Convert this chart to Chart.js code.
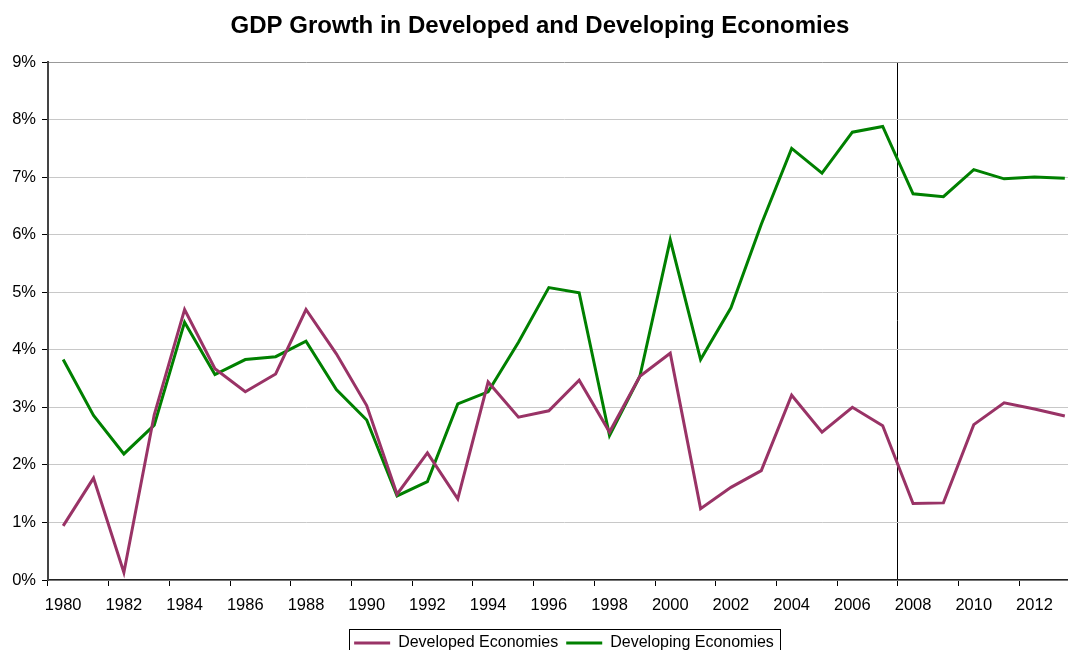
<!DOCTYPE html>
<html>
<head>
<meta charset="utf-8">
<title>GDP Growth</title>
<script src="https://cdn.jsdelivr.net/npm/chart.js@4.4.1/dist/chart.umd.min.js"></script>
<style>
  html, body { margin: 0; padding: 0; background: #fff; overflow: hidden; }
  #wrap { width: 1089px; height: 661px; }
</style>
</head>
<body>
<div id="wrap"><canvas id="grafico" width="1089" height="661"></canvas></div>
<script>
const years = ["1980","1981","1982","1983","1984","1985","1986","1987","1988","1989",
               "1990","1991","1992","1993","1994","1995","1996","1997","1998","1999",
               "2000","2001","2002","2003","2004","2005","2006","2007","2008","2009",
               "2010","2011","2012","2013"];

// growth in percent
const developed = [0.94,1.77,0.13,2.87,4.70,3.67,3.27,3.58,4.70,3.93,
                   3.03,1.49,2.21,1.41,3.44,2.83,2.94,3.47,2.57,3.54,
                   3.94,1.24,1.61,1.90,3.21,2.57,3.00,2.68,1.33,1.34,
                   2.70,3.08,2.97,2.85];
const developing = [3.83,2.86,2.19,2.69,4.48,3.57,3.83,3.88,4.15,3.31,
                    2.78,1.46,1.71,3.06,3.27,4.13,5.08,4.99,2.51,3.54,
                    5.91,3.83,4.73,6.18,7.50,7.07,7.78,7.88,6.71,6.66,
                    7.13,6.97,7.00,6.98];

const yTicks = [0,1,2,3,4,5,6,7,8,9];
const markerYear = "2008";   // black divider before this year

const FONT = "'Liberation Sans', Arial, sans-serif";
const markerIndex = years.indexOf(markerYear);

// thin frame around the legend entries
const legendFrame = {
  id: "legendFrame",
  afterDraw(chart) {
    const boxes = chart.legend && chart.legend.legendHitBoxes;
    if (!boxes || !boxes.length) return;
    const first = boxes[0];
    const last = boxes[boxes.length - 1];
    const ctx = chart.ctx;
    const left = first.left - 5;
    const right = last.left + last.width + 6;
    const top = first.top - 6;
    const bottom = first.top + first.height + 6;
    ctx.save();
    ctx.strokeStyle = "#000";
    ctx.lineWidth = 1;
    ctx.strokeRect(Math.round(left) + 0.5, Math.round(top) + 0.5,
                   Math.round(right - left), Math.round(bottom - top));
    ctx.restore();
  }
};

const canvas = document.getElementById("grafico");
const myChart = new Chart(canvas, {
  type: "line",
  data: {
    labels: years,
    datasets: [
      {
        label: "Developed Economies",
        data: developed,
        borderColor: "#993366",
        backgroundColor: "#993366",
        borderWidth: 3,
        pointRadius: 0,
        tension: 0
      },
      {
        label: "Developing Economies",
        data: developing,
        borderColor: "#008000",
        backgroundColor: "#008000",
        borderWidth: 3,
        pointRadius: 0,
        tension: 0
      }
    ]
  },
  options: {
    responsive: false,
    animation: false,
    devicePixelRatio: 1,
    layout: { padding: { left: 0, right: 9, top: 0, bottom: 0 } },
    plugins: {
      title: {
        display: true,
        text: "GDP Growth in Developed and Developing Economies",
        color: "#000",
        font: { family: FONT, size: 24, weight: "bold" },
        padding: { top: 12, bottom: 21.2 }
      },
      legend: {
        position: "bottom",
        fullSize: false,
        labels: {
          color: "#000",
          font: { family: FONT, size: 16 },
          usePointStyle: true,
          pointStyle: "line",
          pointStyleWidth: 36,
          padding: 8
        }
      },
      tooltip: { enabled: false }
    },
    scales: {
      x: {
        type: "category",
        offset: true,
        afterFit: (scale) => { scale.height = 47; },
        grid: {
          offset: true,
          drawOnChartArea: true,
          drawTicks: true,
          tickLength: 6,
          color: (ctx) => ctx.index === markerIndex ? "#000" : "rgba(0,0,0,0)",
          tickColor: (ctx) => ctx.index % 2 === 0 ? "#000" : "rgba(0,0,0,0)",
          lineWidth: 1
        },
        border: { display: true, color: "#222", width: 1.5 },
        ticks: {
          autoSkip: false,
          maxRotation: 0,
          minRotation: 0,
          padding: 10,
          color: "#000",
          font: { family: FONT, size: 16.5 },
          callback: (val, i) => i % 2 === 0 ? years[i] : ""
        }
      },
      y: {
        min: yTicks[0],
        max: yTicks[yTicks.length - 1],
        afterFit: (scale) => { scale.width = 48; },
        afterBuildTicks: (scale) => { scale.ticks = yTicks.map(v => ({ value: v })); },
        grid: {
          drawTicks: true,
          tickLength: 6,
          color: (ctx) => ctx.tick && ctx.tick.value === 9 ? "#999" : "#c8c8c8",
          tickColor: "#000",
          lineWidth: 1
        },
        border: { display: true, color: "#444", width: 2 },
        ticks: {
          padding: 6,
          color: "#000",
          font: { family: FONT, size: 16.5 },
          callback: (v) => v + "%"
        }
      }
    }
  },
  plugins: [legendFrame]
});
</script>
</body>
</html>
